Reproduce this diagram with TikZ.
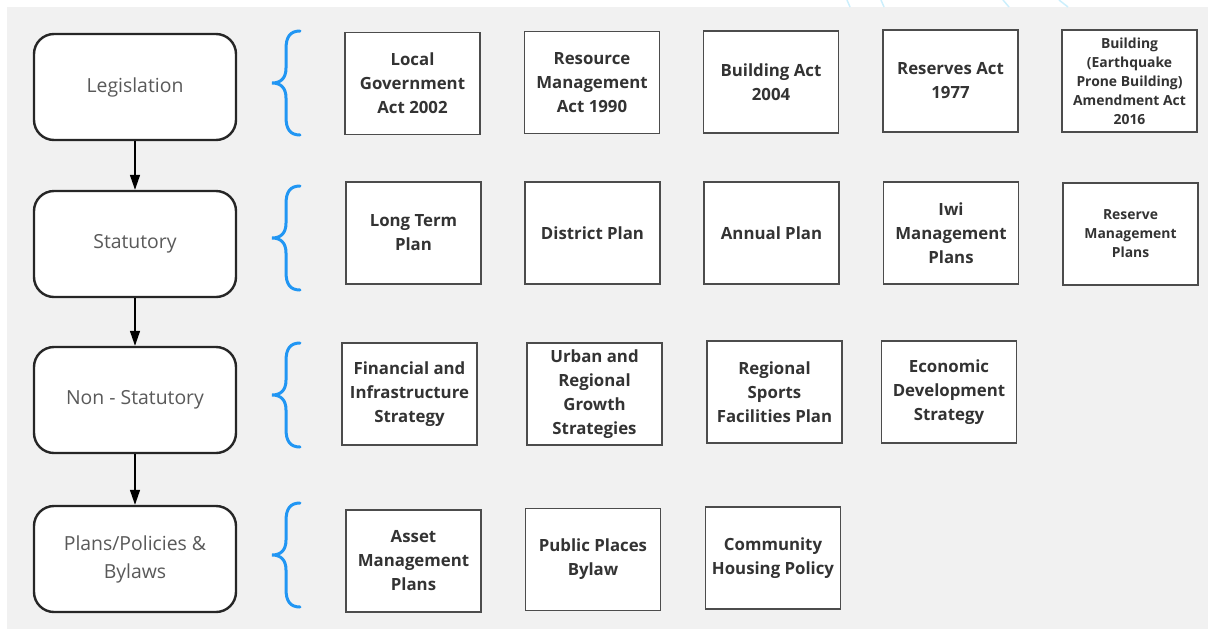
\documentclass[tikz,border=0pt]{standalone}
\usepackage{fontspec}
\setmainfont{Open Sans}
\usetikzlibrary{arrows.meta}
\definecolor{bracecol}{RGB}{33,150,243}
\definecolor{panelgray}{RGB}{241,241,241}
\tikzset{
  tierbox/.style={draw=black!85, line width=2.4pt, rounded corners=20pt, fill=white,
    minimum width=202pt, minimum height=106pt, align=center, text=black!65,
    font=\fontsize{19.4}{28}\selectfont},
  docbox/.style={draw=black!70, line width=1.5pt, fill=white, minimum width=135pt,
    minimum height=102pt, inner sep=0pt, align=center, text=black!80,
    font=\fontsize{16.8}{24}\selectfont\bfseries},
  smalldoc/.style={docbox, font=\fontsize{13.9}{19}\selectfont\bfseries},
  curly/.style={draw=bracecol, line width=3pt, line cap=round},
  tierarrow/.style={-{Triangle[width=10pt,length=15pt]}, line width=1.5pt}
}
\begin{document}
\begin{tikzpicture}[x=1pt,y=-1pt]
  \useasboundingbox (0,0) rectangle (1208,630);
  \fill[panelgray] (7,7) rectangle (1208,629);
  \foreach \a/\b in {847/850,881/884,1003/1009,1059/1068}
    \draw[cyan!20, line width=1.5pt] (\a,0) -- (\b,7);

  % the four tiers
  \node[tierbox] (leg) at (135,87) {Legislation};
  \node[tierbox] (stat) at (135,244) {Statutory};
  \node[tierbox] (nonstat) at (135,400) {Non - Statutory};
  \node[tierbox] (plans) at (135,559) {Plans/Policies \&\\Bylaws};
  \foreach \u/\v in {leg/stat,stat/nonstat,nonstat/plans}
    \draw[tierarrow] (\u) -- (\v);

  % braces in front of each row
  \foreach \m in {83,238,395,555}
    \draw[curly] (300,\m-52) .. controls (290,\m-52) and (286,\m-46) .. (286,\m-34)
      -- (286,\m-15) .. controls (286,\m-5) and (281,\m) .. (272,\m)
      .. controls (281,\m) and (286,\m+5) .. (286,\m+15)
      -- (286,\m+34) .. controls (286,\m+46) and (290,\m+52) .. (300,\m+52);

  % legislation
  \node[docbox] (lga) at (412.5,83.5) {Local\\Government\\Act 2002};
  \node[docbox] (rma) at (592,82.5) {Resource\\Management\\Act 1990};
  \node[docbox] (bact) at (771,82) {Building Act\\2004};
  \node[docbox] (ract) at (950.5,81) {Reserves Act\\1977};
  \node[smalldoc] (epb) at (1129.5,81) {Building\\(Earthquake\\Prone Building)\\Amendment Act\\2016};

  % statutory
  \node[docbox] (ltp) at (413.5,233) {Long Term\\Plan};
  \node[docbox] (dplan) at (592.5,233) {District Plan};
  \node[docbox] (aplan) at (771.5,233) {Annual Plan};
  \node[docbox] (iwi) at (951,233) {Iwi\\Management\\Plans};
  \node[smalldoc] (rmp) at (1130.5,234) {Reserve\\Management\\Plans};

  % non-statutory
  \node[docbox] (fis) at (409.5,394) {Financial and\\Infrastructure\\Strategy};
  \node[docbox] (urgs) at (594.5,394) {Urban and\\Regional\\Growth\\Strategies};
  \node[docbox] (rsfp) at (774.5,392) {Regional\\Sports\\Facilities Plan};
  \node[docbox] (eds) at (949,392) {Economic\\Development\\Strategy};

  % plans, policies and bylaws
  \node[docbox] (amp) at (413.5,561) {Asset\\Management\\Plans};
  \node[docbox] (ppb) at (593,559.5) {Public Places\\Bylaw};
  \node[docbox] (chp) at (773,558) {Community\\Housing Policy};
\end{tikzpicture}
\end{document}
